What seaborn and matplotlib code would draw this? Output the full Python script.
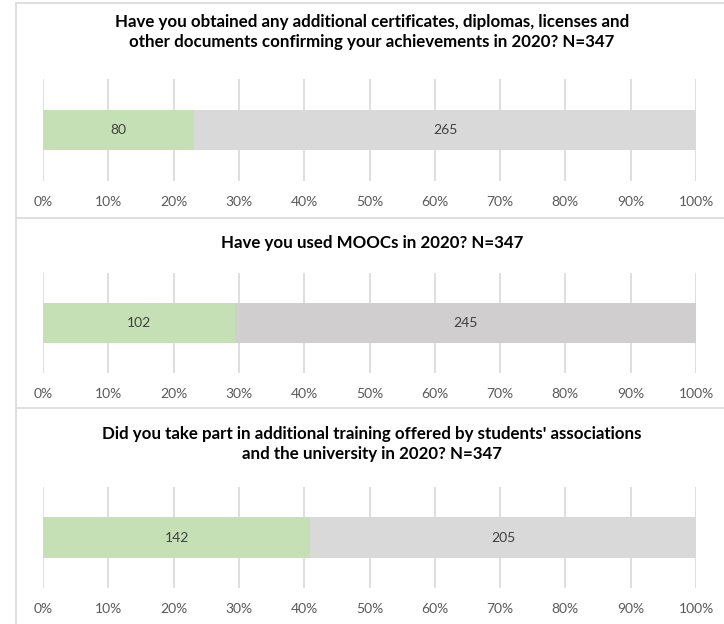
import matplotlib
matplotlib.use("Agg")
import matplotlib.pyplot as plt
import seaborn as sns
import pandas as pd
from matplotlib.ticker import PercentFormatter

sns.set_theme(style="white")
plt.rcParams['font.family'] = ['Lato', 'DejaVu Sans']

# ---- data ----
titles = [
    "Have you obtained any additional certificates, diplomas, licenses and\nother documents confirming your achievements in 2020? N=347",
    "Have you used MOOCs in 2020? N=347",
    "Did you take part in additional training offered by students' associations\nand the university in 2020? N=347",
]
yes_counts = [80, 102, 142]
no_counts = [265, 245, 205]
tick_values = [0, 10, 20, 30, 40, 50, 60, 70, 80, 90, 100]

GREEN = "#C5E0B4"
GRAYS = ["#D9D9D9", "#D0CECE", "#D9D9D9"]
GRID = "#D9D9D9"
TEXT = "#404040"
TICK = "#595959"

W, H = 724, 624
fig = plt.figure(figsize=(W / 100, H / 100), dpi=100)

# panel layout in pixels (top, bottom of axes; title centres; panel top border)
axes_px = [(79, 181), (273, 373), (487, 588)]
title_y = [32, 243, 444]
borders = [3, 218, 408]
x0, x1 = 43, 696

def fx(px):
    return px / W

def fy(py):
    return 1 - py / H

# panel borders
for b in borders:
    fig.add_artist(plt.Line2D([fx(16), 1], [fy(b), fy(b)], color="#D9D9D9", lw=1.2,
                              transform=fig.transFigure))
fig.add_artist(plt.Line2D([fx(16), fx(16)], [fy(3), 0], color="#D9D9D9", lw=1.2,
                          transform=fig.transFigure))

for i in range(3):
    top, bot = axes_px[i]
    ax = fig.add_axes([fx(x0), fy(bot), fx(x1) - fx(x0), (bot - top) / H])
    total = yes_counts[i] + no_counts[i]
    yes_pct = yes_counts[i] / total * 100
    df = pd.DataFrame({"q": ["q"], "total": [100.0], "yes": [yes_pct]})
    sns.barplot(data=df, x="total", y="q", orient="h", color=GRAYS[i], width=0.4,
                saturation=1, linewidth=0, ax=ax, zorder=3)
    sns.barplot(data=df, x="yes", y="q", orient="h", color=GREEN, width=0.4,
                saturation=1, linewidth=0, ax=ax, zorder=4)
    ax.set_xlim(0, 100)
    ax.set_ylim(0.5, -0.5)
    ax.set_xticks(tick_values)
    ax.xaxis.set_major_formatter(PercentFormatter(decimals=0))
    ax.set_yticks([])
    ax.set_xlabel("")
    ax.set_ylabel("")
    ax.grid(axis="x", color=GRID, lw=1.2, zorder=0)
    ax.set_axisbelow(True)
    for s in ax.spines.values():
        s.set_visible(False)
    ax.tick_params(axis="x", length=0, pad=11, labelsize=10, labelcolor=TICK)
    # value labels
    ax.text(yes_pct / 2, 0, str(yes_counts[i]), ha="center", va="center",
            fontsize=10, color=TEXT, zorder=5)
    ax.text(yes_pct + (100 - yes_pct) / 2, 0, str(no_counts[i]), ha="center",
            va="center", fontsize=10, color=TEXT, zorder=5)
    fig.text(fx(372), fy(title_y[i]), titles[i], ha="center", va="center",
             fontsize=12.2, fontweight="bold", color="#000000", linespacing=1.25)

fig.savefig("out.png", dpi=100, facecolor="white")
